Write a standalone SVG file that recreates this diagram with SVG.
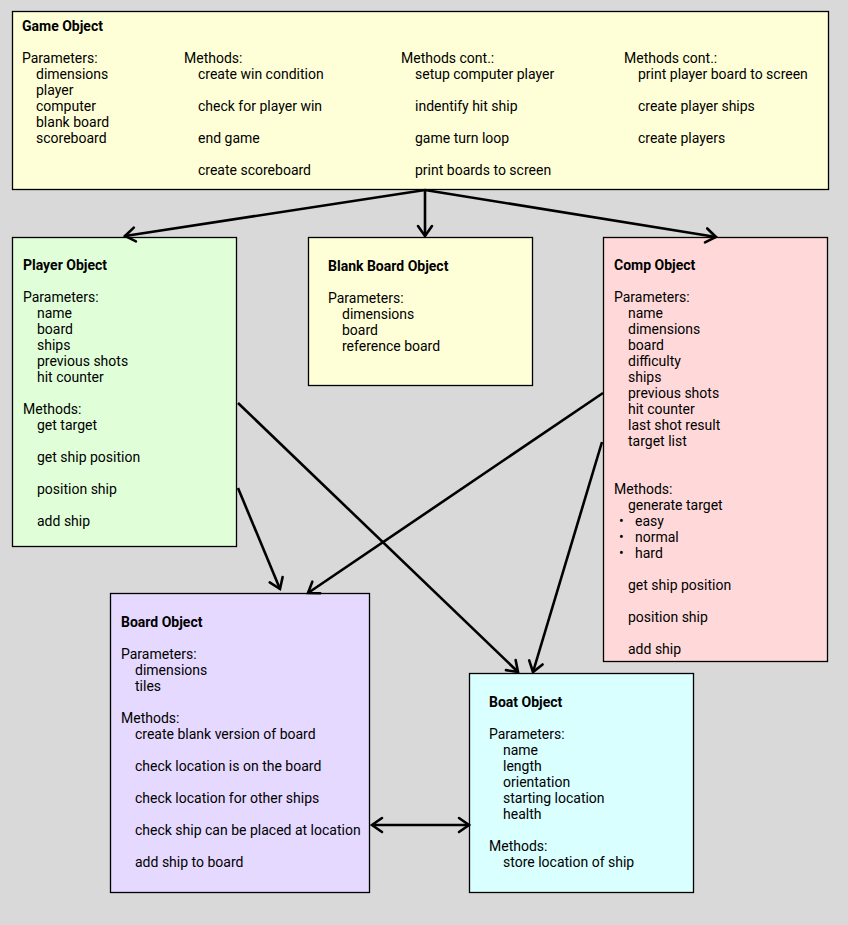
<svg xmlns="http://www.w3.org/2000/svg" width="848" height="925" viewBox="0 0 848 925">
<defs>
<marker id="ah" markerUnits="userSpaceOnUse" markerWidth="24" markerHeight="24" viewBox="-14 -12 24 24" refX="0" refY="0" orient="auto-start-reverse">
<path d="M-10,-7 L0,0 L-10,7" fill="none" stroke="#000" stroke-width="2.6" stroke-linecap="round" stroke-linejoin="miter"/>
</marker>
<style>
text{font-family:Roboto,"Liberation Sans",Arial,sans-serif;font-size:14px;fill:#000}
.t{font-weight:bold}
.box{stroke:#000;stroke-width:1.3}
.c{stroke:#000;stroke-width:2.6;fill:none;marker-end:url(#ah)}
</style>
</defs>
<rect width="848" height="925" fill="#d9d9d9"/>
<g id="game">
<rect class="box" x="12.5" y="11.5" width="816" height="178" fill="#ffffd7"/>
<text class="t" x="22" y="31">Game Object</text>
<text x="22" y="63">Parameters:</text>
<text x="36" y="79">dimensions</text>
<text x="36" y="95">player</text>
<text x="36" y="111">computer</text>
<text x="36" y="127">blank board</text>
<text x="36" y="143">scoreboard</text>
<text x="184" y="63">Methods:</text>
<text x="198" y="79">create win condition</text>
<text x="198" y="111">check for player win</text>
<text x="198" y="143">end game</text>
<text x="198" y="175">create scoreboard</text>
<text x="401" y="63">Methods cont.:</text>
<text x="415" y="79">setup computer player</text>
<text x="415" y="111">indentify hit ship</text>
<text x="415" y="143">game turn loop</text>
<text x="415" y="175">print boards to screen</text>
<text x="624" y="63">Methods cont.:</text>
<text x="638" y="79">print player board to screen</text>
<text x="638" y="111">create player ships</text>
<text x="638" y="143">create players</text>
</g>
<g id="player">
<rect class="box" x="12.5" y="237.5" width="224" height="309" fill="#e0ffd9"/>
<text class="t" x="23" y="270">Player Object</text>
<text x="23" y="302">Parameters:</text>
<text x="37" y="318">name</text>
<text x="37" y="334">board</text>
<text x="37" y="350">ships</text>
<text x="37" y="366">previous shots</text>
<text x="37" y="382">hit counter</text>
<text x="23" y="414">Methods:</text>
<text x="37" y="430">get target</text>
<text x="37" y="462">get ship position</text>
<text x="37" y="494">position ship</text>
<text x="37" y="526">add ship</text>
</g>
<g id="blank">
<rect class="box" x="308.5" y="237.5" width="224" height="148" fill="#ffffd7"/>
<text class="t" x="328" y="271">Blank Board Object</text>
<text x="328" y="303">Parameters:</text>
<text x="342" y="319">dimensions</text>
<text x="342" y="335">board</text>
<text x="342" y="351">reference board</text>
</g>
<g id="comp">
<rect class="box" x="603.5" y="237.5" width="224" height="424" fill="#ffd9d9"/>
<text class="t" x="614" y="270">Comp Object</text>
<text x="614" y="302">Parameters:</text>
<text x="628" y="318">name</text>
<text x="628" y="334">dimensions</text>
<text x="628" y="350">board</text>
<text x="628" y="366">difficulty</text>
<text x="628" y="382">ships</text>
<text x="628" y="398">previous shots</text>
<text x="628" y="414">hit counter</text>
<text x="628" y="430">last shot result</text>
<text x="628" y="446">target list</text>
<text x="614" y="494">Methods:</text>
<text x="628" y="510">generate target</text>
<text x="619" y="526">•</text><text x="635" y="526">easy</text>
<text x="619" y="542">•</text><text x="635" y="542">normal</text>
<text x="619" y="558">•</text><text x="635" y="558">hard</text>
<text x="628" y="590">get ship position</text>
<text x="628" y="622">position ship</text>
<text x="628" y="654">add ship</text>
</g>
<g id="board">
<rect class="box" x="110.5" y="593.5" width="259" height="299" fill="#e6d9ff"/>
<text class="t" x="121" y="627">Board Object</text>
<text x="121" y="659">Parameters:</text>
<text x="135" y="675">dimensions</text>
<text x="135" y="691">tiles</text>
<text x="121" y="723">Methods:</text>
<text x="135" y="739">create blank version of board</text>
<text x="135" y="771">check location is on the board</text>
<text x="135" y="803">check location for other ships</text>
<text x="135" y="835">check ship can be placed at location</text>
<text x="135" y="867">add ship to board</text>
</g>
<g id="boat">
<rect class="box" x="469.5" y="673.5" width="224" height="219" fill="#d9ffff"/>
<text class="t" x="489" y="707">Boat Object</text>
<text x="489" y="739">Parameters:</text>
<text x="503" y="755">name</text>
<text x="503" y="771">length</text>
<text x="503" y="787">orientation</text>
<text x="503" y="803">starting location</text>
<text x="503" y="819">health</text>
<text x="489" y="851">Methods:</text>
<text x="503" y="867">store location of ship</text>
</g>
<g id="connectors">
<line class="c" x1="425" y1="190" x2="125" y2="236"/>
<line class="c" x1="425" y1="190" x2="425" y2="236"/>
<line class="c" x1="425" y1="190" x2="716" y2="237"/>
<line class="c" x1="238" y1="403" x2="518" y2="672"/>
<line class="c" x1="238" y1="488" x2="280" y2="589"/>
<line class="c" x1="603" y1="393" x2="308" y2="593"/>
<line class="c" x1="602" y1="442" x2="533" y2="672"/>
<line class="c" x1="372" y1="825" x2="469" y2="825" style="marker-start:url(#ah)"/>
</g>
</svg>
